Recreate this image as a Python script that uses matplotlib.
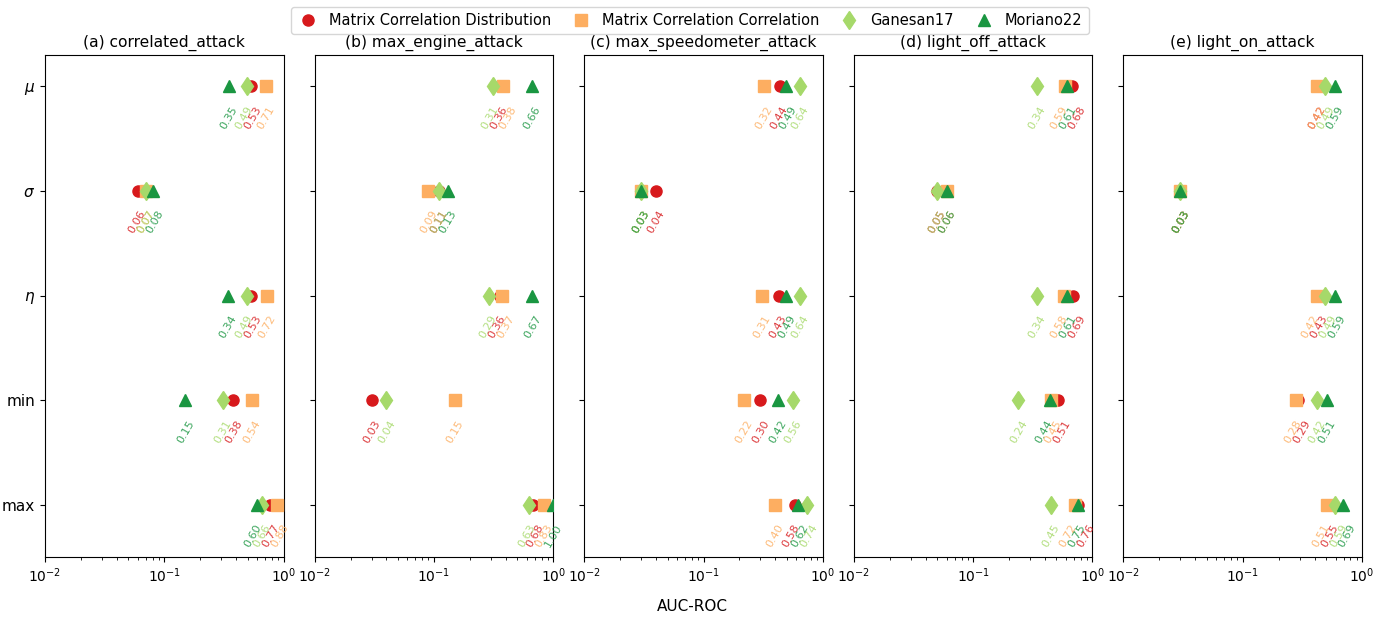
import numpy as np
import matplotlib
matplotlib.use("Agg")
from matplotlib import pyplot as plt

attacks = ["(a) correlated_attack", "(b) max_engine_attack", "(c) max_speedometer_attack",
           "(d) light_off_attack", "(e) light_on_attack"]
stats = ["$\\mu$", "$\\sigma$", "$\\eta$", "min", "max"]

# rows = attacks, cols = mu, sigma, eta, min, max
mcd = [[0.53, 0.06, 0.53, 0.38, 0.77],
       [0.36, 0.11, 0.36, 0.03, 0.68],
       [0.44, 0.04, 0.43, 0.30, 0.58],
       [0.68, 0.05, 0.69, 0.51, 0.76],
       [0.42, 0.03, 0.43, 0.29, 0.55]]
mcc = [[0.71, 0.07, 0.72, 0.54, 0.88],
       [0.38, 0.09, 0.37, 0.15, 0.83],
       [0.32, 0.03, 0.31, 0.22, 0.40],
       [0.59, 0.06, 0.58, 0.45, 0.72],
       [0.42, 0.03, 0.42, 0.28, 0.51]]
ganesan = [[0.49, 0.07, 0.49, 0.31, 0.66],
           [0.31, 0.11, 0.29, 0.04, 0.63],
           [0.64, 0.03, 0.64, 0.56, 0.74],
           [0.34, 0.05, 0.34, 0.24, 0.45],
           [0.49, 0.03, 0.49, 0.42, 0.59]]
moriano = [[0.35, 0.08, 0.34, 0.15, 0.60],
           [0.66, 0.13, 0.67, np.nan, 1.00],
           [0.49, 0.03, 0.49, 0.42, 0.62],
           [0.61, 0.06, 0.61, 0.44, 0.75],
           [0.59, 0.03, 0.59, 0.51, 0.69]]

methods = ["Matrix Correlation Distribution", "Matrix Correlation Correlation", "Ganesan17", "Moriano22"]
series = [mcd, mcc, ganesan, moriano]
colors = ["#d7191c", "#fdae61", "#a6d96a", "#1a9641"]
markers = ["o", "s", "d", "^"]
msizes = [8, 8, 9.5, 8.5]


def spread(vals, gap=0.075):
    # push label positions apart (log space), equal values stay together
    uniq = sorted(set(vals))
    pos = [np.log10(v) for v in uniq]
    for _ in range(100):
        for i in range(1, len(pos)):
            d = pos[i] - pos[i - 1]
            if d < gap:
                pos[i - 1] -= (gap - d) / 2
                pos[i] += (gap - d) / 2
    return {u: 10 ** p for u, p in zip(uniq, pos)}


fig, axes = plt.subplots(1, 5, figsize=(13.85, 6.2), dpi=100, sharey=True)
fig.subplots_adjust(left=0.0325, right=0.9834, top=0.9113, bottom=0.1016, wspace=0.13)

for a, ax in enumerate(axes):
    for k in range(len(stats)):
        vals = [s[a][k] for s in series]
        ok = [v for v in vals if not np.isnan(v)]
        lab_x = spread(ok)
        for m, v in enumerate(vals):
            if np.isnan(v):
                continue
            ax.plot(v, k, linestyle="none", marker=markers[m], color=colors[m],
                    markersize=msizes[m], zorder=3 + m, label=methods[m] if k == 0 else None)
            ax.annotate("%.2f" % v, xy=(lab_x[v], k), xytext=(0, -13), textcoords="offset points",
                        ha="center", va="top", rotation=60, fontsize=8, color=colors[m], alpha=0.85)
    ax.set_xscale("log")
    ax.set_xlim(1e-2, 1e0)
    ax.set_ylim(4.5, -0.3)
    ax.set_title(attacks[a], fontsize=11.2)
    ax.tick_params(axis="x", labelsize=10)

axes[0].set_yticks(range(len(stats)))
axes[0].set_yticklabels(stats, fontsize=11)

handles, labels = axes[0].get_legend_handles_labels()
fig.legend(handles, labels, loc="upper center", ncol=4, bbox_to_anchor=(0.498, 1.0),
           fontsize=10.5, handlelength=1.5, handletextpad=0.7, columnspacing=1.3)
fig.supxlabel("AUC-ROC", fontsize=11, y=0.01)

plt.savefig("out.png")
